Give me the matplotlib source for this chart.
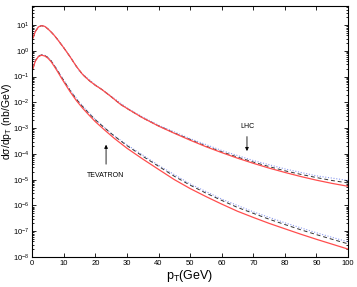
import numpy as np
import matplotlib
matplotlib.use("Agg")
import matplotlib.pyplot as plt
from matplotlib.ticker import LogLocator, MultipleLocator, NullFormatter

plt.rcParams['font.family'] = ['Liberation Sans', 'DejaVu Sans']
plt.rcParams['mathtext.fontset'] = 'custom'
plt.rcParams['mathtext.rm'] = 'Liberation Sans'
plt.rcParams['mathtext.it'] = 'Liberation Sans'

# LHC curves
lhc_pt = [0.3, 1, 2, 3, 4, 5, 6, 7, 8, 10, 12, 14, 16, 18, 20, 22, 25, 28, 31, 35,
          40, 45, 50, 55, 60, 65, 70, 75, 80, 85, 90, 95, 100]
lhc_solid = [3.16, 5.6, 8.5, 9.5, 8.9, 7.1, 5.4, 4.0, 2.8, 1.32, 0.59, 0.25, 0.12,
             0.071, 0.046, 0.032, 0.0166, 0.0083, 0.0049, 0.0025,
             1.2e-3, 6.3e-4, 3.4e-4, 1.9e-4, 1.12e-4, 6.8e-5, 4.3e-5, 2.8e-5,
             1.9e-5, 1.32e-5, 9.5e-6, 7.1e-6, 5.5e-6]
lhc_dashed = [3.16, 5.6, 8.5, 9.5, 8.9, 7.1, 5.4, 4.0, 2.8, 1.32, 0.59, 0.25, 0.12,
              0.071, 0.046, 0.032, 0.0166, 0.0083, 0.0049, 0.0025,
              1.22e-3, 6.5e-4, 3.6e-4, 2.0e-4, 1.2e-4, 7.5e-5, 4.8e-5, 3.2e-5,
              2.2e-5, 1.6e-5, 1.2e-5, 9.2e-6, 7.4e-6]
lhc_dot_pt = [0.3, 1, 2, 3, 4, 5, 6, 8, 10, 12, 15, 20, 25, 30, 35, 40, 50, 60, 70, 80, 90, 100]
lhc_dotted = [3.2, 5.7, 8.6, 9.6, 9.0, 7.2, 5.5, 2.85, 1.35, 0.61, 0.16, 0.048, 0.0175,
              0.0061, 0.0027, 1.3e-3, 3.9e-4, 1.35e-4, 5.5e-5, 2.6e-5, 1.4e-5, 9.3e-6]

# TEVATRON curves
tev_pt = [0.3, 1, 2, 3, 4, 5, 6, 7, 8, 9, 10, 12, 14, 16, 18, 20, 23, 26, 30, 35,
          40, 45, 50, 55, 60, 65, 70, 75, 80, 85, 90, 95, 100]
tev_solid = [0.21, 0.4, 0.6, 0.68, 0.63, 0.52, 0.38, 0.25, 0.16, 0.1, 0.063, 0.026,
             0.0117, 5.9e-3, 3.2e-3, 1.78e-3, 8.3e-4, 4.0e-4, 1.66e-4, 6.3e-5,
             2.5e-5, 1.0e-5, 4.5e-6, 2.2e-6, 1.12e-6, 5.9e-7, 3.4e-7, 2.0e-7,
             1.23e-7, 7.6e-8, 4.8e-8, 3.1e-8, 2.0e-8]
tev_dashed = [0.21, 0.41, 0.62, 0.7, 0.66, 0.55, 0.41, 0.27, 0.175, 0.11, 0.07, 0.029,
              0.0132, 6.8e-3, 3.7e-3, 2.1e-3, 1.0e-3, 4.9e-4, 2.1e-4, 8.1e-5,
              3.3e-5, 1.35e-5, 6.1e-6, 3.0e-6, 1.56e-6, 8.3e-7, 4.9e-7, 2.9e-7,
              1.8e-7, 1.13e-7, 7.3e-8, 4.8e-8, 3.2e-8]
tev_dot_pt = [0.3, 1, 2, 3, 4, 5, 6, 8, 10, 12, 15, 20, 25, 30, 40, 50, 60, 70, 80, 90, 100]
tev_dotted = [0.22, 0.42, 0.63, 0.71, 0.67, 0.56, 0.42, 0.18, 0.073, 0.031, 9.8e-3,
              2.2e-3, 6.2e-4, 2.25e-4, 3.6e-5, 6.8e-6, 1.75e-6, 5.6e-7, 2.1e-7,
              8.6e-8, 3.8e-8]

fig = plt.figure(figsize=(3.57, 2.87), dpi=100)
ax = fig.add_axes([0.09, 0.105, 0.885, 0.874])

for pt, s, d, dpt, dot in [(lhc_pt, lhc_solid, lhc_dashed, lhc_dot_pt, lhc_dotted),
                           (tev_pt, tev_solid, tev_dashed, tev_dot_pt, tev_dotted)]:
    ax.plot(dpt, dot, color='#8c9cf0', lw=0.8, ls=(0, (1, 1.5)))
    ax.plot(pt, d, color='#333333', lw=0.7, ls=(0, (4, 3)))
    ax.plot(pt, s, color='#ff4d4d', lw=0.9)

ax.set_yscale('log')
ax.set_xlim(0, 100)
ax.set_ylim(1e-8, 55)
ax.xaxis.set_major_locator(MultipleLocator(10))
ax.yaxis.set_major_locator(LogLocator(base=10, numticks=20))
ax.yaxis.set_minor_locator(LogLocator(base=10, subs=np.arange(2, 10), numticks=20))
ax.yaxis.set_minor_formatter(NullFormatter())
ax.tick_params(which='both', direction='in', top=True, right=True, labelsize=5.5,
               width=0.6, pad=2)
ax.tick_params(which='major', length=3)
ax.tick_params(which='minor', length=1.5)
for sp in ax.spines.values():
    sp.set_linewidth(0.8)

ax.set_xlabel(r'p$_\mathregular{T}$(GeV)', fontsize=9)
ax.xaxis.set_label_coords(0.5, -0.045)
ax.set_ylabel(r'd$\sigma$/dp$_\mathregular{T}$ (nb/GeV)', fontsize=7.5)
ax.yaxis.set_label_coords(-0.058, 0.54)

ax.annotate('', xy=(68, 1.0e-4), xytext=(68, 6e-4),
            arrowprops=dict(arrowstyle='-|>', color='black', lw=0.6, mutation_scale=5))
ax.text(68, 1.2e-3, 'LHC', fontsize=5, ha='center', va='center')
ax.annotate('', xy=(23.4, 2.9e-4), xytext=(23.4, 3.1e-5),
            arrowprops=dict(arrowstyle='-|>', color='black', lw=0.6, mutation_scale=5))
ax.text(23.4, 1.5e-5, 'TEVATRON', fontsize=5, ha='center', va='center')

fig.savefig('out.png', dpi=100)
